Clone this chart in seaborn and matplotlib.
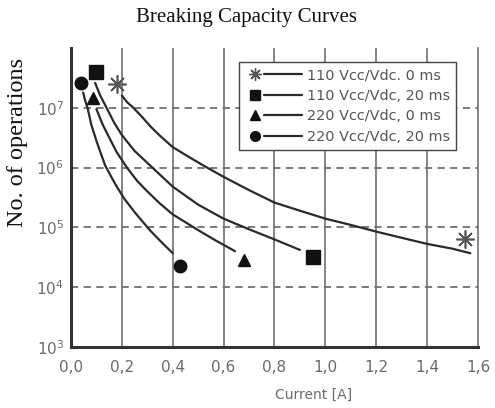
import matplotlib
matplotlib.use("Agg")
import matplotlib.pyplot as plt
import seaborn as sns
from matplotlib.lines import Line2D
from matplotlib.legend_handler import HandlerTuple

# curves (current in A, number of operations)
star_curve_x = [0.20, 0.22, 0.245, 0.28, 0.31, 0.35, 0.40, 0.47, 0.535, 0.60,
                0.70, 0.80, 0.90, 1.00, 1.10, 1.20, 1.30, 1.40, 1.50, 1.57]
star_curve_y = [1.6e7, 1.25e7, 1.0e7, 7.0e6, 5.0e6, 3.4e6, 2.2e6, 1.45e6, 1.0e6, 7.0e5,
                4.2e5, 2.6e5, 1.9e5, 1.4e5, 1.1e5, 8.5e4, 6.7e4, 5.3e4, 4.4e4, 3.7e4]

square_curve_x = [0.095, 0.115, 0.14, 0.17, 0.20, 0.25, 0.32, 0.40, 0.50, 0.60,
                  0.70, 0.80, 0.90]
square_curve_y = [2.6e7, 1.6e7, 1.0e7, 5.6e6, 3.5e6, 1.9e6, 1.0e6, 4.8e5, 2.4e5, 1.4e5,
                  9.3e4, 6.3e4, 4.2e4]

triangle_curve_x = [0.10, 0.125, 0.15, 0.18, 0.22, 0.26, 0.30, 0.35, 0.40, 0.50,
                    0.57, 0.645]
triangle_curve_y = [9.5e6, 5.2e6, 3.2e6, 1.8e6, 1.0e6, 6.0e5, 4.0e5, 2.5e5, 1.65e5, 9.0e4,
                    6.0e4, 4.0e4]

circle_curve_x = [0.048, 0.055, 0.065, 0.08, 0.10, 0.12, 0.135, 0.16, 0.18, 0.21,
                  0.25, 0.31, 0.35, 0.40]
circle_curve_y = [1.8e7, 1.35e7, 1.0e7, 5.2e6, 2.8e6, 1.6e6, 1.07e6, 6.8e5, 4.8e5, 3.0e5,
                  1.8e5, 9.0e4, 6.0e4, 3.7e4]

# end markers
star_pts_x = [0.18, 1.55]
star_pts_y = [2.5e7, 6.5e4]
square_pts_x = [0.10, 0.95]
square_pts_y = [4.0e7, 3.2e4]
triangle_pts_x = [0.085, 0.68]
triangle_pts_y = [1.45e7, 2.9e4]
circle_pts_x = [0.04, 0.43]
circle_pts_y = [2.6e7, 2.3e4]

labels = ["110 Vcc/Vdc. 0 ms", "110 Vcc/Vdc, 20 ms",
          "220 Vcc/Vdc, 0 ms", "220 Vcc/Vdc, 20 ms"]
xticks = [0.0, 0.2, 0.4, 0.6, 0.8, 1.0, 1.2, 1.4, 1.6]
xtick_labels = ["0,0", "0,2", "0,4", "0,6", "0,8", "1,0", "1,2", "1,4", "1,6"]
yticks = [1e3, 1e4, 1e5, 1e6, 1e7]

sns.set_style("white")
plt.rcParams['font.family'] = ['DejaVu Sans']

line_col = "#2a2a2a"
grid_col = "#707070"
text_col = "#6a6a6a"

fig = plt.figure(figsize=(4.95, 4.08), dpi=100)
ax = fig.add_axes([0.1434, 0.1495, 0.8222, 0.7329])

curves = [(star_curve_x, star_curve_y), (square_curve_x, square_curve_y),
          (triangle_curve_x, triangle_curve_y), (circle_curve_x, circle_curve_y)]
for cx, cy in curves:
    sns.lineplot(x=cx, y=cy, ax=ax, color=line_col, linewidth=1.6,
                 sort=False, estimator=None, zorder=3)

star_marker = (8, 2, 0)
ax.plot(star_pts_x, star_pts_y, linestyle="none", marker=star_marker,
        markersize=13, markeredgewidth=1.2, color="#555555", zorder=4)
ax.plot(square_pts_x, square_pts_y, linestyle="none", marker="s",
        markersize=9.5, color="#111111", zorder=4)
ax.plot(triangle_pts_x, triangle_pts_y, linestyle="none", marker="^",
        markersize=9, color="#111111", zorder=4)
ax.plot(circle_pts_x, circle_pts_y, linestyle="none", marker="o",
        markersize=9, color="#111111", zorder=4)

ax.set_yscale("log")
ax.set_xlim(0, 1.6)
ax.set_ylim(1e3, 1e8)
ax.set_xticks(xticks)
ax.set_xticklabels(xtick_labels)
ax.set_yticks(yticks)
ax.set_yticklabels([r"$10^{%d}$" % e for e in [3, 4, 5, 6, 7]])
ax.minorticks_off()

for x in xticks[1:-1]:
    ax.axvline(x, color=grid_col, linewidth=1.2, zorder=1)
for y in yticks[1:]:
    ax.axhline(y, color=grid_col, linewidth=1.3, linestyle=(0, (4, 3)), zorder=1)

for side in ["left", "bottom"]:
    ax.spines[side].set_color("#333333")
    ax.spines[side].set_linewidth(2.2)
ax.spines["right"].set_color(grid_col)
ax.spines["right"].set_linewidth(1.2)
ax.spines["top"].set_visible(False)

ax.tick_params(axis="x", direction="out", length=5, width=1.5, color="#333333",
               labelsize=11, labelcolor=text_col, pad=4)
ax.tick_params(axis="y", direction="out", length=4, width=1.2, color=grid_col,
               labelsize=11, labelcolor=text_col, pad=1)

ax.set_xlabel("Current [A]", fontsize=10, color=text_col)
ax.xaxis.set_label_coords(0.595, -0.135)
ax.set_ylabel("No. of operations", fontsize=17.5, family="Liberation Serif",
              color="#111111")
ax.yaxis.set_label_coords(-0.105, 0.684)
fig.text(0.498, 0.956, "Breaking Capacity Curves", fontsize=15,
         family="Liberation Serif", ha="center", va="center", color="#111111")

handles = []
for mk, ms, mc in [(star_marker, 9, "#555555"), ("s", 7, "#111111"),
                   ("^", 7, "#111111"), ("o", 7, "#111111")]:
    h_mark = Line2D([], [], linestyle="none", marker=mk, markersize=ms,
                    color=mc, markeredgewidth=1.0)
    h_line = Line2D([], [], color=line_col, linewidth=1.6)
    handles.append((h_mark, h_line, h_line))

leg = ax.legend(handles, labels, handler_map={tuple: HandlerTuple(ndivide=None, pad=0)},
                loc="upper left", bbox_to_anchor=(0.413, 0.952), borderaxespad=0,
                fontsize=10.4, handlelength=3.96, handletextpad=0.28, labelspacing=0.44,
                borderpad=0.43, frameon=True, fancybox=False, framealpha=1)
leg.get_frame().set_edgecolor("#444444")
leg.get_frame().set_linewidth(1.0)
for t in leg.get_texts():
    t.set_color("#555555")

fig.savefig("out.png", dpi=100)
